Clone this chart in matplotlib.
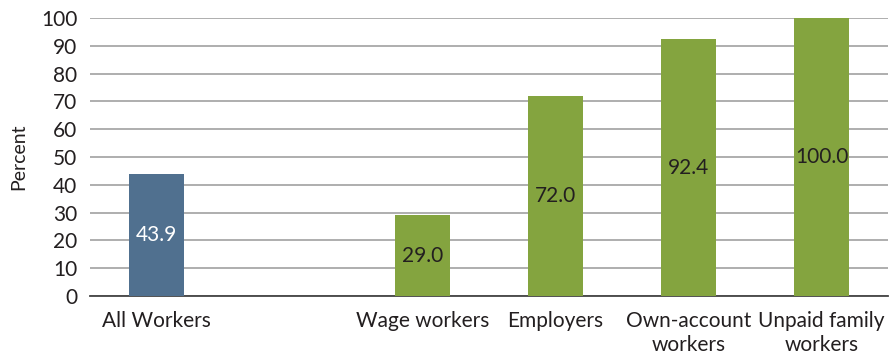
import numpy as np
import matplotlib.pyplot as plt

plt.rcParams['font.family'] = ['Lato', 'DejaVu Sans']

categories = ['All Workers', '', 'Wage workers', 'Employers',
              'Own-account\nworkers', 'Unpaid family\nworkers']
values = [43.9, np.nan, 29.0, 72.0, 92.4, 100.0]
colors = ['#50708f', '#84a43f', '#84a43f', '#84a43f', '#84a43f', '#84a43f']
label_colors = ['white', '#231f20', '#231f20', '#231f20', '#231f20', '#231f20']

fig = plt.figure(figsize=(8.92, 3.56), dpi=100)
ax = fig.add_axes([0.1009, 0.1685, 0.8946, 0.7809])

x = np.arange(len(categories))
bars = ax.bar(x, values, width=0.41, color=colors, zorder=3)

for xi, v, c in zip(x, values, label_colors):
    if np.isnan(v):
        continue
    ax.text(xi, v / 2, f'{v:.1f}', ha='center', va='center',
            fontsize=15, color=c, zorder=4)

ax.set_xlim(-0.5, len(categories) - 0.5)
ax.set_ylim(0, 100)
ax.set_yticks(np.arange(0, 101, 10))
ax.set_xticks(x)
ax.set_xticklabels(categories, fontsize=15, color='#231f20', linespacing=1.25)
ax.tick_params(axis='y', labelsize=15, colors='#231f20', length=0, pad=9)
ax.tick_params(axis='x', length=0, pad=11)

ax.grid(axis='y', color='#a8a8a8', linewidth=1.3, zorder=0)
for side in ['top', 'right', 'left']:
    ax.spines[side].set_visible(False)
ax.spines['bottom'].set_color('#444444')
ax.spines['bottom'].set_linewidth(1.3)

ax.set_ylabel('Percent', fontsize=14, color='#231f20', labelpad=10)

fig.savefig('out.png', dpi=100)
